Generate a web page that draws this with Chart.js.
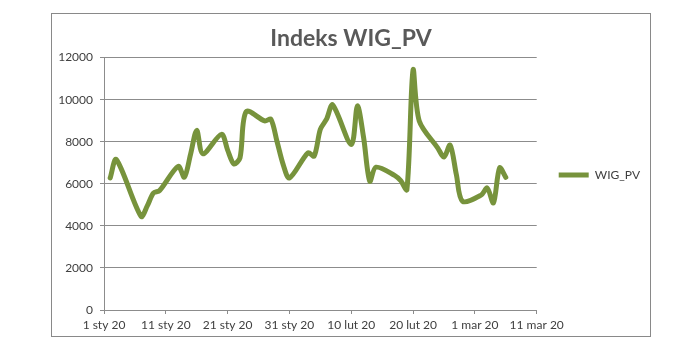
<!DOCTYPE html>
<html>
<head>
<meta charset="utf-8">
<script src="https://cdn.jsdelivr.net/npm/chart.js@4"></script>
<style>
  body { margin: 0; background: #fff; }
  #frame {
    position: absolute; left: 51px; top: 13px;
    width: 598px; height: 322px;
    border: 1px solid #898989;
  }
</style>
</head>
<body>
<div id="frame"><canvas id="wigChart" width="598" height="322"></canvas></div>
<script>
// trading days (2020) and index values
const dates = [
    '2020-01-02', '2020-01-03', '2020-01-07', '2020-01-08', '2020-01-09', '2020-01-10',
    '2020-01-13', '2020-01-14', '2020-01-15', '2020-01-16', '2020-01-17',
    '2020-01-20', '2020-01-21', '2020-01-22', '2020-01-23', '2020-01-24',
    '2020-01-27', '2020-01-28', '2020-01-29', '2020-01-30', '2020-01-31',
    '2020-02-03', '2020-02-04', '2020-02-05', '2020-02-06', '2020-02-07',
    '2020-02-10', '2020-02-11', '2020-02-12', '2020-02-13', '2020-02-14',
    '2020-02-17', '2020-02-18', '2020-02-19', '2020-02-20', '2020-02-21',
    '2020-02-24', '2020-02-25', '2020-02-26', '2020-02-27', '2020-02-28',
    '2020-03-02', '2020-03-03', '2020-03-04', '2020-03-05', '2020-03-06'
];
const wigValues = [
    6280, 7150, 4450, 4950, 5560, 5680,
    6830, 6310, 7400, 8540, 7430,
    8350, 7600, 6950, 7230, 9430,
    8990, 9070, 8000, 6900, 6280,
    7470, 7320, 8590, 9070, 9750,
    7870, 9700, 8190, 6120, 6790,
    6400, 6150, 5720, 11410, 8990,
    7700, 7270, 7840, 6440, 5170,
    5460, 5800, 5090, 6760, 6310
];
const tickLabels = ['1 sty 20', '11 sty 20', '21 sty 20', '31 sty 20', '10 lut 20',
    '20 lut 20', '1 mar 20', '11 mar 20'];
const seriesName = 'WIG_PV';

const startDay = Date.UTC(2020, 0, 1);
function dayOffset(d) {
    const p = d.split('-').map(Number);
    return (Date.UTC(p[0], p[1] - 1, p[2]) - startDay) / 86400000;
}

const points = dates.map((d, i) => ({ x: dayOffset(d), y: wigValues[i] }));

const labelFont = { family: 'Lato', size: 12 };
const gridColor = '#8c8c8c';

const config = {
    type: 'line',
    data: {
        datasets: [{
            label: seriesName,
            data: points,
            borderColor: '#77933C',
            backgroundColor: '#77933C',
            borderWidth: 5,
            borderCapStyle: 'round',
            pointRadius: 0,
            tension: 0.3,
            fill: false
        }]
    },
    options: {
        responsive: false,
        animation: false,
        plugins: {
            title: {
                display: true,
                text: 'Indeks WIG_PV',
                color: '#595959',
                font: { family: 'Lato', size: 23, weight: 'bold', lineHeight: 1.2 },
                padding: { top: 11, bottom: 5 }
            },
            legend: {
                position: 'right',
                labels: {
                    usePointStyle: true,
                    pointStyle: 'line',
                    pointStyleWidth: 30,
                    padding: 22,
                    color: '#404040',
                    font: labelFont
                }
            },
            tooltip: { enabled: false }
        },
        scales: {
            x: {
                type: 'linear',
                min: 0,
                max: 70,
                afterFit: (scale) => { scale.height = 26; },
                ticks: {
                    stepSize: 10,
                    color: '#404040',
                    font: labelFont,
                    maxRotation: 0,
                    padding: 4,
                    callback: (v) => tickLabels[v / 10]
                },
                grid: { display: true, drawOnChartArea: false, color: gridColor, tickLength: 4 },
                border: { color: gridColor, width: 1 }
            },
            y: {
                min: 0,
                max: 12000,
                afterFit: (scale) => { scale.width = 52; },
                ticks: {
                    stepSize: 2000,
                    color: '#404040',
                    font: labelFont,
                    padding: 7,
                    callback: (v) => String(v)
                },
                grid: { color: gridColor, tickLength: 4 },
                border: { color: gridColor, width: 1 }
            }
        }
    }
};

const wigChart = new Chart(document.getElementById('wigChart'), config);
</script>
</body>
</html>
